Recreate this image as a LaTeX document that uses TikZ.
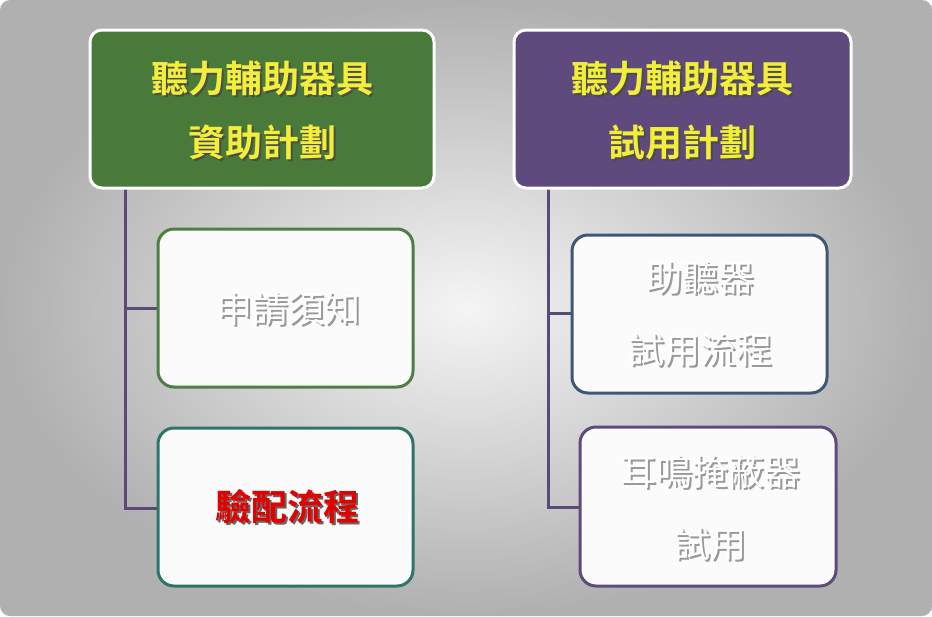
\documentclass[tikz,border=0pt]{standalone}
\usepackage{fontspec}
\newfontfamily\cjk{Noto Sans CJK TC}[BoldFont={Noto Sans CJK TC Bold}]
\usetikzlibrary{shadings,calc}
\definecolor{hgreen}{HTML}{4A7A3A}
\definecolor{hpurple}{HTML}{5E4A7C}
\definecolor{hyellow}{HTML}{F2EE3A}
\definecolor{lnc}{HTML}{5A4A78}
\definecolor{cgreen}{HTML}{4E7E44}
\definecolor{cteal}{HTML}{2E7468}
\definecolor{cblue}{HTML}{3E5778}
\definecolor{cpurp}{HTML}{5E4A7C}
\tikzset{
 hdr/.style={draw=white,line width=3pt,rounded corners=12pt},
 child/.style={draw=#1,fill=white!97!gray,line width=3pt,rounded corners=16pt},
 conn/.style={draw=lnc,line width=3pt},
 htxt/.style={align=center,font=\cjk\bfseries\fontsize{37}{64}\selectfont},
 ctxt/.style={align=center,font=\cjk\fontsize{36}{72}\selectfont}
}
\begin{document}
\begin{tikzpicture}[x=1pt,y=-1pt]
\useasboundingbox (0,0) rectangle (932,616);
\shade[inner color=white!92!gray,outer color=gray!62,rounded corners=10pt] (0,0) rectangle (932,616);
% connectors
\coordinate (lt) at (125,188); \coordinate (lb) at (125,508);
\coordinate (rt) at (548,188); \coordinate (rb) at (548,507);
\draw[conn] (lt) -- (lb) -- (158,508);
\draw[conn] (125,308) -- (158,308);
\draw[conn] (rt) -- (rb) -- (580,507);
\draw[conn] (548,313) -- (572,313);
% headers
\draw[hdr,fill=hgreen] (90,30) rectangle (434,188);
\draw[hdr,fill=hpurple] (514,30) rectangle (851,188);
\node[htxt,text=black!70] at (264,112) {聽力輔助器具\\資助計劃};
\node[htxt,text=hyellow] (h1) at (262,110) {聽力輔助器具\\資助計劃};
\node[htxt,text=black!70] at (684,112) {聽力輔助器具\\試用計劃};
\node[htxt,text=hyellow] (h2) at (682,110) {聽力輔助器具\\試用計劃};
% children
\draw[child=cgreen] (158,229) rectangle (413,387);
\draw[child=cteal] (158,428) rectangle (413,586);
\draw[child=cblue] (572,235) rectangle (827,393);
\draw[child=cpurp] (580,427) rectangle (836,586);
\node[ctxt,text=black!40] at (290,311) {申請須知};
\node[ctxt,text=white] (c1) at (288,309) {申請須知};
\node[ctxt,font=\cjk\bfseries\fontsize{36}{72}\selectfont,text=black!60] at (289,509) {驗配流程};
\node[ctxt,font=\cjk\bfseries\fontsize{36}{72}\selectfont,text=red!90!black] (c2) at (287,507) {驗配流程};
\node[ctxt,text=black!40] at (702,316) {助聽器\\試用流程};
\node[ctxt,text=white] (c3) at (700,314) {助聽器\\試用流程};
\node[ctxt,text=black!40] at (712,510) {耳鳴掩蔽器\\試用};
\node[ctxt,text=white] (c4) at (710,508) {耳鳴掩蔽器\\試用};
\end{tikzpicture}
\end{document}
